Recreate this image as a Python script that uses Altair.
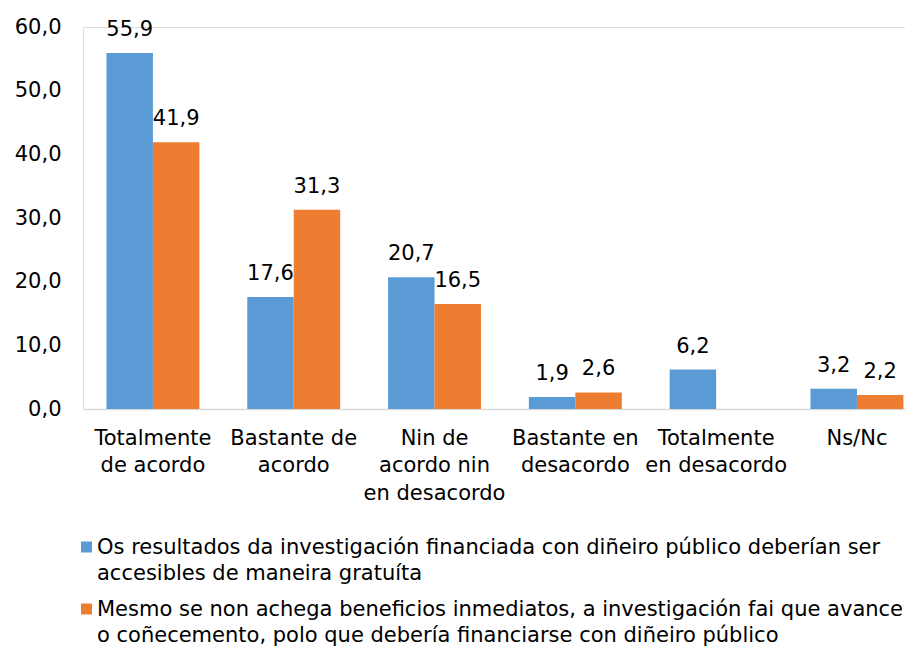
import json
import altair as alt
import pandas as pd

FONT = "DejaVu Sans"
FS = 21

categories = [
    "Totalmente de acordo",
    "Bastante de acordo",
    "Nin de acordo nin en desacordo",
    "Bastante en desacordo",
    "Totalmente en desacordo",
    "Ns/Nc",
]
category_lines = [
    ["Totalmente", "de acordo"],
    ["Bastante de", "acordo"],
    ["Nin de", "acordo nin", "en desacordo"],
    ["Bastante en", "desacordo"],
    ["Totalmente", "en desacordo"],
    ["Ns/Nc"],
]
series = [
    "Os resultados da investigación financiada con diñeiro público deberían ser accesibles de maneira gratuíta",
    "Mesmo se non achega beneficios inmediatos, a investigación fai que avance o coñecemento, polo que debería financiarse con diñeiro público",
]
series_lines = [
    "Os resultados da investigación financiada con diñeiro público deberían ser\naccesibles de maneira gratuíta",
    "Mesmo se non achega beneficios inmediatos, a investigación fai que avance\no coñecemento, polo que debería financiarse con diñeiro público",
]
values_a = [55.9, 17.6, 20.7, 1.9, 6.2, 3.2]
values_b = [41.9, 31.3, 16.5, 2.6, None, 2.2]
y_ticks = [0, 10, 20, 30, 40, 50, 60]
colors = ["#5B9BD5", "#ED7D31"]

rows = []
for cat, a, b in zip(categories, values_a, values_b):
    rows.append({"category": cat, "series": series[0], "value": a})
    if b is not None:
        rows.append({"category": cat, "series": series[1], "value": b})
df = pd.DataFrame(rows)

label_map = json.dumps(dict(zip(categories, category_lines)), ensure_ascii=False)
fmt = "replace(format(datum.value, '.1f'), '.', ',')"

base = alt.Chart(df).encode(
    x=alt.X(
        "category:N",
        sort=categories,
        title=None,
        scale=alt.Scale(paddingInner=0.34, paddingOuter=0.089, align=0.936),
        axis=alt.Axis(
            labelExpr=f"{label_map}[datum.value]",
            labelAngle=0,
            labelFont=FONT,
            labelFontSize=FS,
            labelColor="#000000",
            labelPadding=18,
            labelLineHeight=27.5,
            ticks=False,
            domainColor="#d9d9d9",
            domainWidth=1.5,
            grid=False,
        ),
    ),
    xOffset=alt.XOffset("series:N", sort=series, scale=alt.Scale(paddingInner=0, paddingOuter=0)),
    y=alt.Y(
        "value:Q",
        title=None,
        scale=alt.Scale(domain=[0, 60], nice=False),
        axis=alt.Axis(
            values=y_ticks,
            labelExpr=fmt,
            labelFont=FONT,
            labelFontSize=FS,
            labelColor="#000000",
            labelPadding=22,
            ticks=False,
            domain=False,
            grid=False,
        ),
    ),
)

bars = base.mark_bar().encode(
    color=alt.Color("series:N", scale=alt.Scale(domain=series, range=colors), legend=None)
)

value_labels = base.transform_calculate(
    lbl="replace(format(datum.value, '.1f'), '.', ',')"
).mark_text(
    baseline="alphabetic", dy=-17, fontSize=FS, font=FONT, color="#000000"
).encode(text="lbl:N")

legend_layers = []
for i, (txt, col) in enumerate(zip(series_lines, colors)):
    ymid = 520 + i * 62
    legend_layers.append(
        alt.Chart(alt.Data(values=[{"s": txt}]))
        .mark_square(size=121, color=col, opacity=1)
        .encode(x=alt.value(3.5), y=alt.value(ymid))
    )
    legend_layers.append(
        alt.Chart(alt.Data(values=[{"s": txt}]))
        .mark_text(align="left", baseline="alphabetic", lineBreak="\n", lineHeight=26.5,
                   fontSize=FS, font=FONT, color="#000000")
        .encode(x=alt.value(14), y=alt.value(ymid + 6.5), text="s:N")
    )

chart = alt.layer(bars, value_labels, *legend_layers).properties(
    width=822,
    height=382,
    autosize=alt.AutoSizeParams(type="none"),
    padding={"left": 75, "top": 19, "right": 0, "bottom": 240},
).configure_view(stroke=None).configure(font=FONT)

chart.save("out.html", embed_options={"renderer": "svg", "actions": False})
